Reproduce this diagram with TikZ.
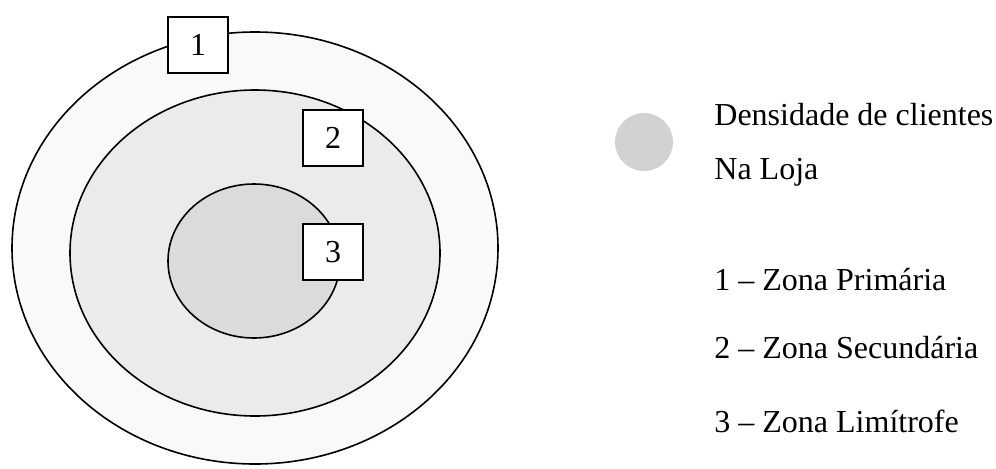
\documentclass[tikz,border=0pt]{standalone}
\usepackage{fontspec}
\setmainfont{Liberation Serif}
\usetikzlibrary{positioning}

\tikzset{
  zone/.style={draw=black, line width=0.8pt},
  zonebox/.style={draw=black, fill=white, line width=0.7pt, minimum width=30pt, minimum height=28pt, inner sep=0pt},
  legtext/.style={anchor=base west, inner sep=0pt}
}

\begin{document}
\begin{tikzpicture}[x=0.5pt, y=0.5pt, font=\fontsize{16}{19}\selectfont]
\useasboundingbox (0,0) rectangle (996,468);
% zonas
\draw[zone, fill=gray!5] (255,220) ellipse [x radius=243, y radius=216];
\draw[zone, fill=gray!16] (255,215) ellipse [x radius=185, y radius=163];
\draw[zone, fill=gray!28] (254,207) ellipse [x radius=86, y radius=77];
\node[zonebox] (box1) at (198,423) {1};
\node[zonebox] (box2) at (333,330) {2};
\node[zonebox] (box3) at (333,216) {3};
% legenda
\fill[gray!35] (644,326) circle (29);
\node[legtext] (dens) at (714,343) {Densidade de clientes};
\node[legtext] (loja) at (714,289) {Na Loja};
\node[legtext] (z1) at (714,178) {1 -- Zona Primária};
\node[legtext] (z2) at (714,110) {2 -- Zona Secundária};
\node[legtext] (z3) at (714,36) {3 -- Zona Limítrofe};
\end{tikzpicture}
\end{document}
